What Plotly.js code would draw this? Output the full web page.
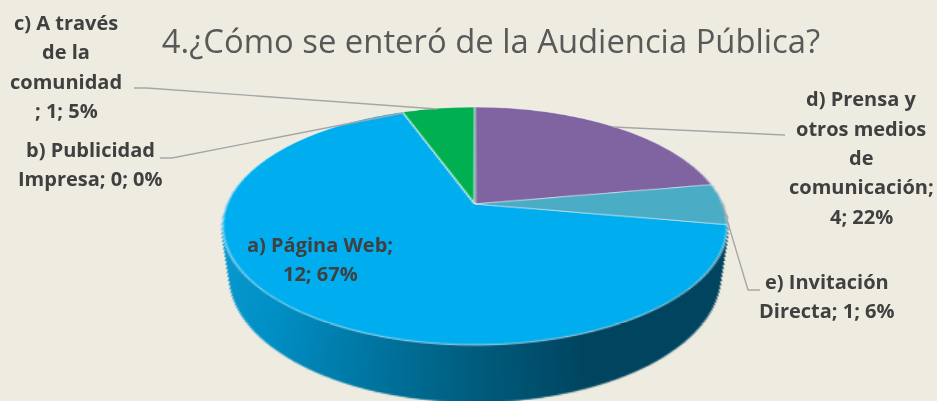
<!DOCTYPE html>
<html><head><meta charset="utf-8">
<script src="https://cdn.plot.ly/plotly-3.0.1.min.js"></script>
<style>html,body{margin:0;padding:0;width:937px;height:401px;overflow:hidden;background:#EEECE1}#chart{width:937px;height:401px}</style>
</head><body><div id="chart"></div>
<script>
// Data, in the order they appear clockwise from slice a)
var categories = ['a) Página Web', 'b) Publicidad Impresa', 'c) A través de la comunidad', 'd) Prensa y otros medios de comunicación', 'e) Invitación Directa'];
var values = [12, 0, 1, 4, 1];
var sliceColors = ['#00AEEF', '#C0504D', '#00B050', '#8064A2', '#4BACC6'];
// Label lines as printed in the chart
var labelA = ['a) Página Web;', '12; 67%'];
var labelB = ['b) Publicidad', 'Impresa; 0; 0%'];
var labelC = ['c) A través', 'de la', 'comunidad', '; 1; 5%'];
var labelD = ['d) Prensa y', 'otros medios', 'de', 'comunicación;', '4; 22%'];
var labelE = ['e) Invitación', 'Directa; 1; 6%'];
var chartTitle = '4.¿Cómo se enteró de la Audiencia Pública?';

var W = 937, H = 401;
var cx = 475, cy = 140, R = 132;       // pie centre/radius in the flat SVG
var tilt = 62.4, persp = 1188, k = 248 / R, apexY = 204;
var layers = 70, sideDrop = 102 / k, sideShrink = 26 / k;

function pieTrace(x, y, r, colors, line) {
  return {
    type: 'pie', labels: categories, values: values, sort: false, direction: 'clockwise', rotation: 100,
    textinfo: 'none', hoverinfo: 'skip', showlegend: false,
    marker: {colors: colors, line: line},
    domain: {x: [(x - r) / W, (x + r) / W], y: [1 - (y + r) / H, 1 - (y - r) / H]}
  };
}
var traces = [];
for (var i = layers; i >= 1; i--) {
  var t = i / layers;
  traces.push(pieTrace(cx, cy + sideDrop * t, R - sideShrink * t, ['#006a90','#006a90','#006a90','#006a90','#006a90'], {width: 0.6, color: '#006a90'}));
}
traces.push(pieTrace(cx, cy, R, sliceColors, {width: 0.65, color: '#f0f5f7'}));

var annotations = [];
function addLabel(lines, x, yFirst, step) {
  lines.forEach(function (s, i) {
    annotations.push({xref: 'paper', yref: 'paper', x: x / W, y: 1 - (yFirst + step * i) / H, xanchor: 'center', yanchor: 'middle',
      text: '<b>' + s + '</b>', showarrow: false, font: {family: 'Open Sans, sans-serif', size: 20, color: '#404040'}});
  });
}
addLabel(labelA, 320, 244.5, 28.5);
addLabel(labelB, 90, 149.5, 29);
addLabel(labelC, 66, 22.5, 29.3);
addLabel(labelD, 861, 98.5, 29.5);
addLabel(labelE, 827, 281.5, 29);

function leader(d) {
  return {type: 'path', xref: 'paper', yref: 'paper', layer: 'above', path: d, line: {color: '#a6a6a6', width: 1.4}};
}
function P(x, y) { return (x / W).toFixed(5) + ',' + (1 - y / H).toFixed(5); }
var shapes = [
  leader('M' + P(134, 88) + ' L' + P(147, 88) + ' L' + P(437, 109)),
  leader('M' + P(160, 158) + ' L' + P(172, 158) + ' L' + P(403, 113)),
  leader('M' + P(785, 135) + ' L' + P(613, 127)),
  leader('M' + P(760, 290) + ' L' + P(748, 290) + ' L' + P(722, 203))
];

var layout = {
  width: W, height: H, margin: {l: 0, r: 0, t: 0, b: 0},
  paper_bgcolor: '#EEECE1', plot_bgcolor: 'rgba(0,0,0,0)', showlegend: false,
  title: {text: chartTitle, x: 491 / W, xanchor: 'center', y: 1 - 41.5 / H, yanchor: 'middle', font: {family: 'Open Sans, sans-serif', size: 32.8, color: '#595959'}},
  annotations: annotations, shapes: shapes
};

Plotly.newPlot('chart', traces, layout, {staticPlot: true, displayModeBar: false}).then(function (gd) {
  var svg = gd.querySelector('svg.main-svg');
  var NS = 'http://www.w3.org/2000/svg';
  var defs = svg.querySelector('defs') || svg.insertBefore(document.createElementNS(NS, 'defs'), svg.firstChild);
  var g = document.createElementNS(NS, 'linearGradient');
  g.setAttribute('id', 'sideGrad');
  g.setAttribute('gradientUnits', 'userSpaceOnUse');
  g.setAttribute('x1', cx - R); g.setAttribute('x2', cx + R); g.setAttribute('y1', 0); g.setAttribute('y2', 0);
  [[0, '#0a9bd3'], [0.16, '#008fc4'], [0.5, '#005c7e'], [0.68, '#00445f'], [1, '#00445f']].forEach(function (s) {
    var st = document.createElementNS(NS, 'stop');
    st.setAttribute('offset', s[0]); st.setAttribute('stop-color', s[1]); g.appendChild(st);
  });
  defs.appendChild(g);
  var tr = svg.querySelectorAll('.pielayer .trace');
  for (var i = 0; i < tr.length - 1; i++) {
    tr[i].querySelectorAll('path').forEach(function (p) { p.style.fill = 'url(#sideGrad)'; p.style.stroke = 'url(#sideGrad)'; });
  }
  svg.style.transformOrigin = cx + 'px ' + cy + 'px';
  svg.style.transform = 'translateY(' + (apexY - cy) + 'px) perspective(' + persp + 'px) rotateX(' + tilt + 'deg) scale(' + k + ')';
});
</script></body></html>
